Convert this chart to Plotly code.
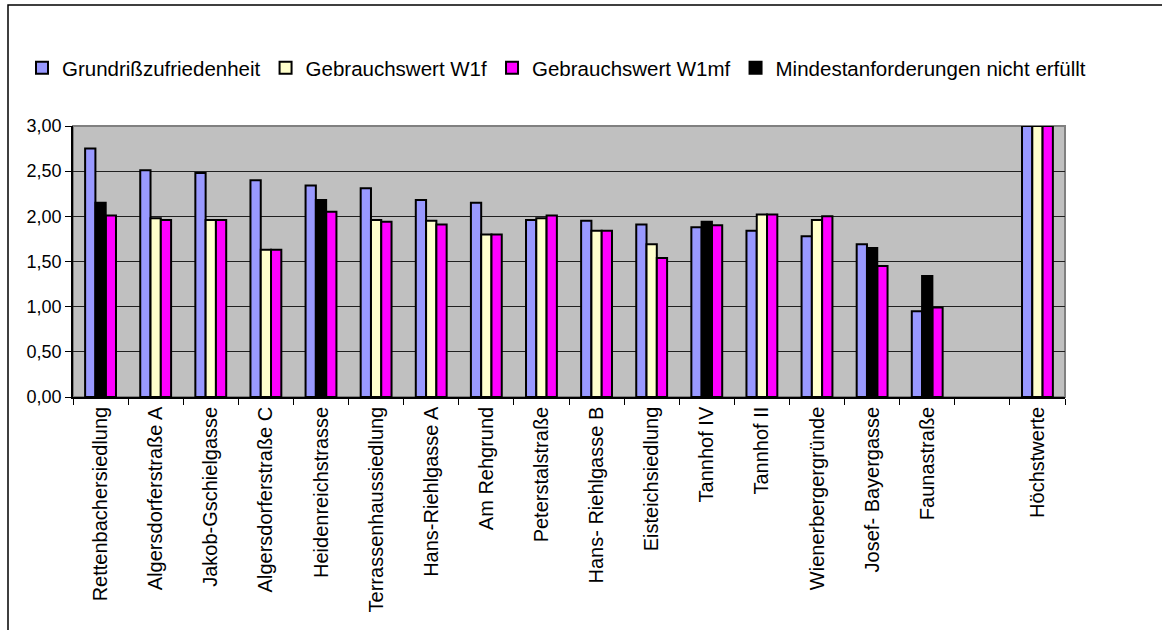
import plotly.graph_objects as go

categories = ["Rettenbachersiedlung", "Algersdorferstraße A", "Jakob-Gschielgasse",
              "Algersdorferstraße C", "Heidenreichstrasse", "Terrassenhaussiedlung",
              "Hans-Riehlgasse A", "Am Rehgrund", "Peterstalstraße", "Hans- Riehlgasse B",
              "Eisteichsiedlung", "Tannhof IV", "Tannhof II", "Wienerbergergründe",
              "Josef- Bayergasse", "Faunastraße", " ", "Höchstwerte"]

grundriss = [2.75, 2.51, 2.48, 2.40, 2.34, 2.31, 2.18, 2.15, 1.96, 1.95, 1.91, 1.88, 1.84, 1.78, 1.69, 0.95, None, 3.00]
w1f = [None, 1.98, 1.96, 1.63, None, 1.96, 1.95, 1.80, 1.98, 1.84, 1.69, None, 2.02, 1.96, None, None, None, 3.00]
w1mf = [2.01, 1.96, 1.96, 1.63, 2.05, 1.94, 1.91, 1.80, 2.01, 1.84, 1.54, 1.90, 2.02, 2.00, 1.45, 0.99, None, 3.00]
mindest = [2.15, None, None, None, 2.18, None, None, None, None, None, None, 1.94, None, None, 1.65, 1.34, None, None]

series_names = ["Grundrißzufriedenheit", "Gebrauchswert W1f", "Gebrauchswert W1mf",
                "Mindestanforderungen nicht erfüllt"]
colors = ["#9999FF", "#FFFFCC", "#FF00FF", "#000000"]

fig = go.Figure()
for name, vals, col, grp in zip(series_names, [grundriss, w1f, w1mf, mindest], colors, ["a", "b", "c", "b"]):
    fig.add_trace(go.Bar(
        x=categories, y=vals, name=name, offsetgroup=grp,
        marker=dict(color=col, line=dict(color="black", width=2)),
    ))

W, H = 1162, 630
L, R, T, B = 73, 97, 126, 233
pw, ph = W - L - R, H - T - B

def px(x):
    # x in page pixels -> paper coords
    return (x - L) / pw

def py(y):
    # y in page pixels -> paper coords
    return (H - B - y) / ph

fig.update_layout(
    width=W, height=H,
    margin=dict(l=L, r=R, t=T, b=B, autoexpand=False),
    paper_bgcolor="white",
    plot_bgcolor="#C0C0C0",
    barmode="group", bargap=0.44, bargroupgap=0,
    separators=",.",
    font=dict(family="Liberation Sans, Arial, sans-serif", color="black"),
    legend=dict(orientation="h", x=px(22), xanchor="left", y=py(68), yanchor="middle",
                font=dict(size=20.5), bgcolor="rgba(0,0,0,0)", itemwidth=30,
                traceorder="normal"),
    showlegend=True,
    xaxis=dict(type="category", tickson="boundaries", ticks="outside", ticklen=6,
               tickcolor="black", tickangle=-90, tickfont=dict(size=20),
               showline=True, linecolor="black", linewidth=1.5, showgrid=False,
               automargin=False),
    yaxis=dict(range=[0, 3], dtick=0.5, tickformat=".2f", ticks="outside", ticklen=6,
               tickcolor="black", tickfont=dict(size=18), showline=True,
               linecolor="black", linewidth=1.5, gridcolor="#202020", gridwidth=1,
               zeroline=False, automargin=False),
    shapes=[
        dict(type="rect", xref="paper", yref="paper", x0=0, x1=1, y0=0, y1=1,
             line=dict(color="#808080", width=2), layer="below"),
        dict(type="rect", xref="paper", yref="paper", x0=px(8), x1=px(1175),
             y0=py(660), y1=py(5), line=dict(color="black", width=1.5)),
    ],
)

fig.write_html("out.html", config={"displayModeBar": False},
               post_script="document.body.style.margin='0';document.body.style.overflow='hidden';")
